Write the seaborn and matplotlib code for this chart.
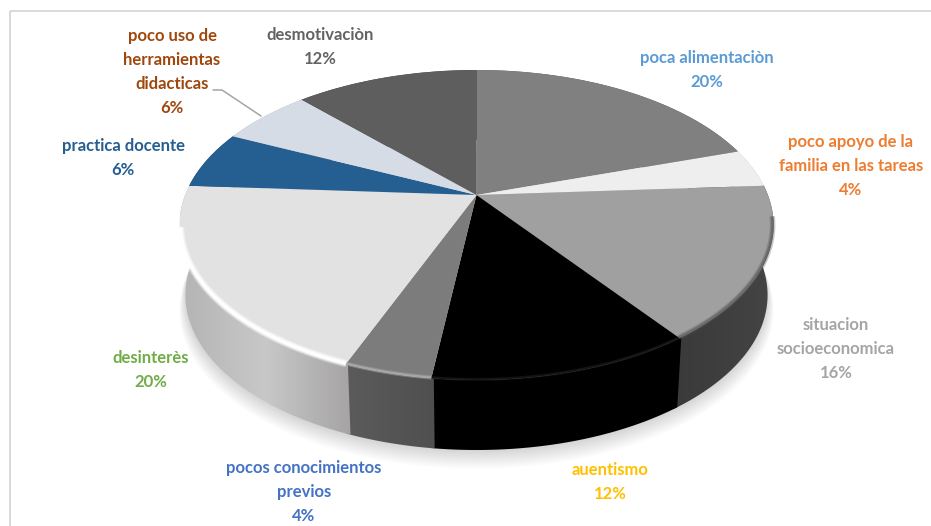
import numpy as np
import matplotlib
matplotlib.use("Agg")
import matplotlib.pyplot as plt
from matplotlib.transforms import Transform
from matplotlib.path import Path
from matplotlib.patches import Polygon, Rectangle
from matplotlib.colors import LinearSegmentedColormap
import seaborn as sns

# ---- data ----
categories = ["poca alimentaciòn", "poco apoyo de la\nfamilia en las tareas",
              "situacion\nsocioeconomica", "auentismo",
              "pocos conocimientos\nprevios", "desinterès", "practica docente",
              "poco uso de\nherramientas\ndidacticas", "desmotivaciòn"]
values = [20, 4, 16, 12, 4, 20, 6, 6, 12]

# ---- styles ----
top_colors = ["#808080", "#eeeeee", "#a0a0a0", "#000000", "#7c7c7c",
              "#e2e2e2", "#255e91", "#d6dce5", "#5e5e5e"]
wall_stops = [["#555555", "#555555"], ["#bbbbbb", "#bbbbbb"], ["#3a3a3a", "#444444"],
              ["#000000", "#000000"], ["#5c5c5c", "#4f4f4f"],
              ["#b4b4b4", "#c8c8c8", "#a6a4a4"], ["#1b4a72", "#1b4a72"],
              ["#a8adb5", "#a8adb5"], ["#444444", "#444444"]]
label_colors = ["#5b9bd5", "#ed7d31", "#a5a5a5", "#ffc000", "#4472c4",
                "#70ad47", "#255e91", "#9e480e", "#636363"]
label_x = [707, 851, 836, 610, 304, 151, 123, 172, 320]
label_y = [70, 166, 349, 482, 492, 370, 158, 72, 47]

sns.set_theme(style="white")
plt.rcParams["font.family"] = ["Lato", "DejaVu Sans"]

CX, CY, TOP, BOTTOM, HALF_W, WALL = 476.5, 195.0, 125.0, 185.0, 297.0, 70.0
K = (BOTTOM - TOP) / (BOTTOM + TOP)
A = TOP * (1 + K)
R = HALF_W * np.sqrt(1 - K ** 2)
NARROW = 0.98


class Tilt(Transform):
    """Perspective view of the unit pie, in pixel coordinates."""
    input_dims = output_dims = 2
    has_inverse = False
    is_separable = False

    def transform_non_affine(self, xy):
        xy = np.asarray(xy, float)
        w = 1 + K * xy[:, 1]
        return np.column_stack([CX + R * xy[:, 0] / w, CY - A * xy[:, 1] / w])

    def transform_path_non_affine(self, path):
        return Path(self.transform_non_affine(path.vertices), path.codes)


tilt = Tilt()


def rim(t1, t2, n=80, r=1.0):
    t = np.radians(np.linspace(t1, t2, n))
    return tilt.transform_non_affine(np.column_stack([r * np.cos(t), r * np.sin(t)]))


def lower(pts, extra=0.0):
    out = pts + [0, WALL + extra]
    out[:, 0] = CX + (out[:, 0] - CX) * NARROW
    return out


fig = plt.figure(figsize=(9.31, 5.26), dpi=100, facecolor="white")
ax = fig.add_axes([0, 0, 1, 1])
wedges, _ = ax.pie(values, colors=top_colors, startangle=90, counterclock=False,
                   wedgeprops=dict(linewidth=0, zorder=5))
for w in wedges:
    w.set_transform(tilt + ax.transData)
    w.set_clip_on(False)

# soft shadow under the disc
outline = rim(0, 360, 240)
for i in range(14):
    shift = lower(outline, 1 + i * 1.1)
    ctr = shift.mean(axis=0)
    ax.add_patch(Polygon(ctr + (shift - ctr) * (1 + i * 0.0016), closed=True, fc="#000000",
                         ec="none", alpha=0.012, zorder=1))

# side walls
for w, stops in zip(wedges, wall_stops):
    top = rim(w.theta1 - 0.4, w.theta2 + 0.4)
    poly = Polygon(np.vstack([top, lower(top)[::-1]]), closed=True,
                   fc="none", ec="none", zorder=2)
    ax.add_patch(poly)
    x0, x1 = poly.get_xy()[:, 0].min(), poly.get_xy()[:, 0].max()
    y0, y1 = poly.get_xy()[:, 1].min(), poly.get_xy()[:, 1].max()
    cmap = LinearSegmentedColormap.from_list("wall", stops)
    im = ax.imshow(np.linspace(0, 1, 128)[None, :], cmap=cmap, aspect="auto",
                   extent=(x0, x1, y1, y0), zorder=2, interpolation="bilinear")
    im.set_clip_path(poly)

# bevel highlights along the front edge
edge_styles = [(-168, -111.6, "#ffffff", [5.5, 4, 2.4], [.35, .5, .95]),
               (-111.6, -97.2, "#b0b0b0", [3, 1.5], [.4, .7]),
               (-97.2, -54, "#1c1c1c", [2], [.7]),
               (-54, -8, "#505050", [4, 2], [.3, .5])]
for t1, t2, col, lws, alphas in edge_styles:
    pts = rim(t1, t2, r=0.997)
    for lw, al in zip(lws, alphas):
        ax.plot(pts[:, 0], pts[:, 1], color=col, lw=lw, alpha=al, zorder=6,
                solid_capstyle="butt")

# chart frame
ax.add_patch(Rectangle((9.5, 10.5), 1000, 1000, fc="none", ec="#d9d9d9", lw=1.4, zorder=0))

# labels
for name, v, x, y, c in zip(categories, values, label_x, label_y, label_colors):
    ax.text(x, y, f"{name}\n{v}%", color=c, ha="center", va="center", fontsize=12,
            fontweight="bold", linespacing=1.62, zorder=8)

# leader line
ax.plot([213, 222, 261], [90, 90, 116], color="#a6a6a6", lw=1.1, zorder=4)

ax.set_aspect("auto")
ax.set_xlim(0, 931)
ax.set_ylim(526, 0)
ax.axis("off")
fig.savefig("out.png", dpi=100, facecolor="white")
